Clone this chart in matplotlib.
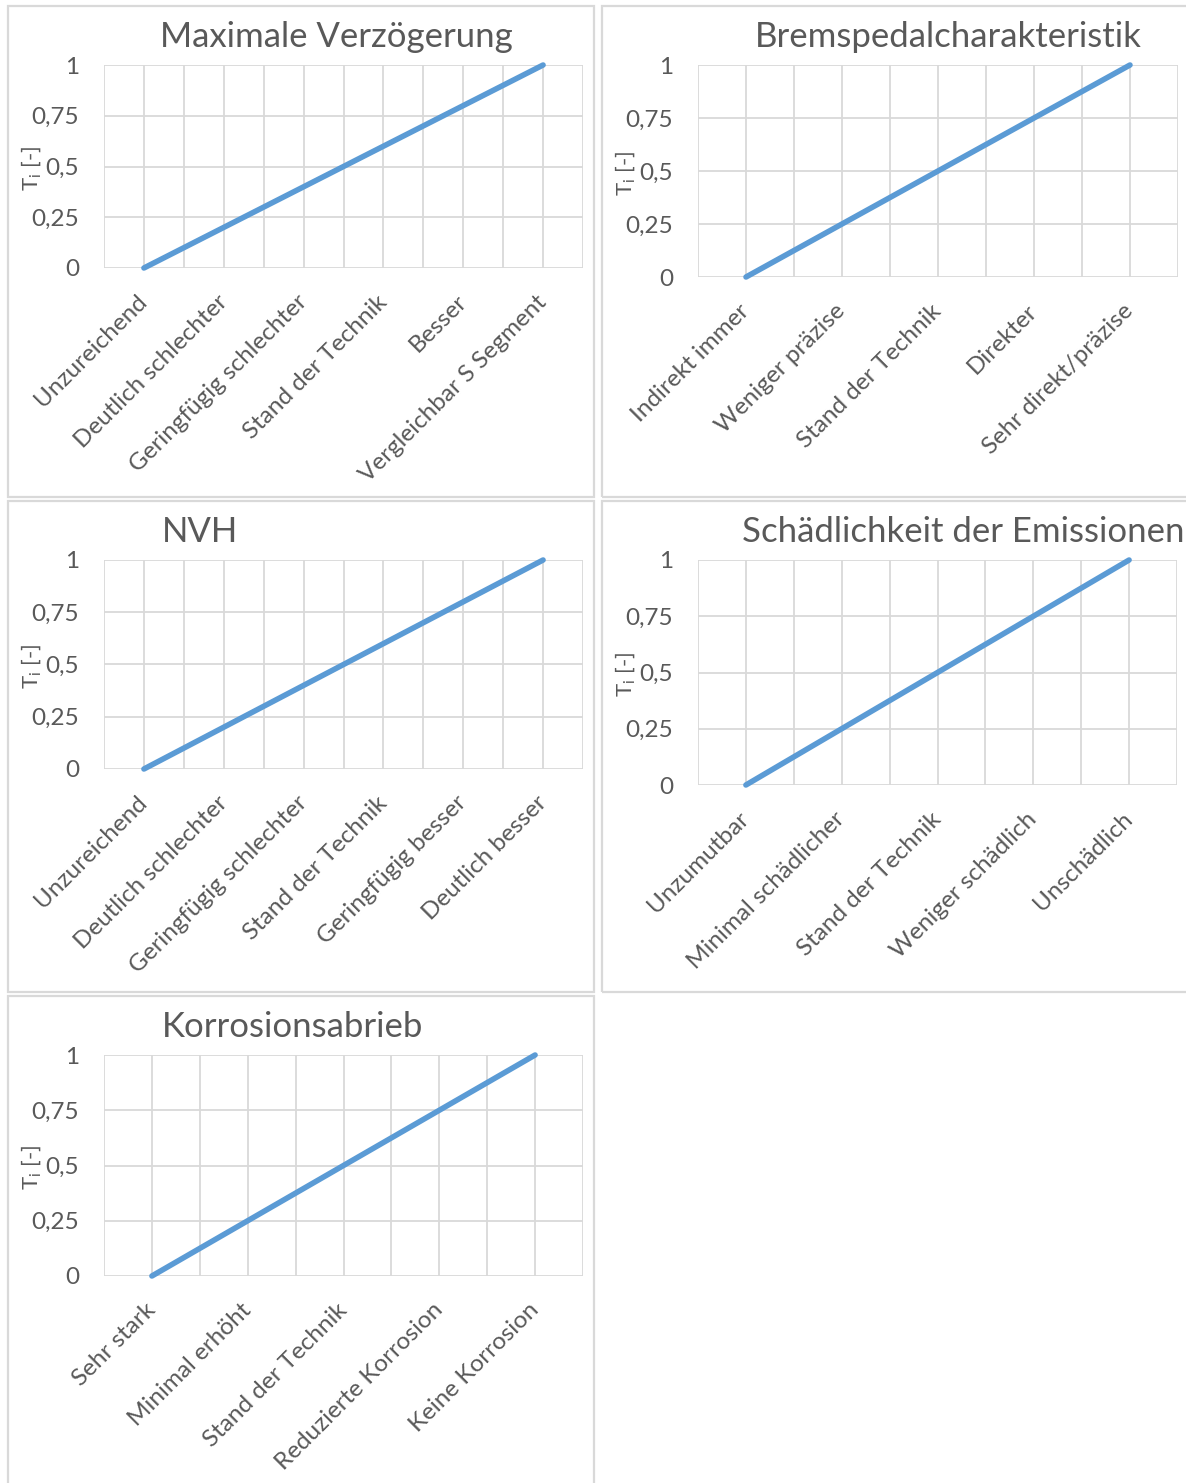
import numpy as np
import matplotlib
import matplotlib.pyplot as plt
from matplotlib.patches import Rectangle
from matplotlib.transforms import ScaledTranslation
matplotlib.use('agg')

# Bewertungsfunktionen T_i je Kriterium
titles = ['Maximale Verzögerung', 'Bremspedalcharakteristik', 'NVH',
          'Schädlichkeit der Emissionen', 'Korrosionsabrieb']

cats_verz = ['Unzureichend', 'Deutlich schlechter', 'Geringfügig schlechter',
             'Stand der Technik', 'Besser', 'Vergleichbar S Segment']
vals_verz = [0, 0.2, 0.4, 0.6, 0.8, 1]

cats_pedal = ['Indirekt immer', 'Weniger präzise', 'Stand der Technik',
              'Direkter', 'Sehr direkt/präzise']
vals_pedal = [0, 0.25, 0.5, 0.75, 1]

cats_nvh = ['Unzureichend', 'Deutlich schlechter', 'Geringfügig schlechter',
            'Stand der Technik', 'Geringfügig besser', 'Deutlich besser']
vals_nvh = [0, 0.2, 0.4, 0.6, 0.8, 1]

cats_emis = ['Unzumutbar', 'Minimal schädlicher', 'Stand der Technik',
             'Weniger schädlich', 'Unschädlich']
vals_emis = [0, 0.25, 0.5, 0.75, 1]

cats_korr = ['Sehr stark', 'Minimal erhöht', 'Stand der Technik',
             'Reduzierte Korrosion', 'Keine Korrosion']
vals_korr = [0, 0.25, 0.5, 0.75, 1]

y_ticks = [0, 0.25, 0.5, 0.75, 1]
y_ticklabels = ['0', '0,25', '0,5', '0,75', '1']

plt.rcParams['font.family'] = ['Lato', 'DejaVu Sans']
TXT = '#595959'
GRID = '#D9D9D9'
BLUE = '#5B9BD5'

W, H = 1186, 1483
fig = plt.figure(figsize=(W / 100, H / 100), dpi=100)

# panel boxes (pixel coords: x0, y0, x1, y1)
boxes = [(8, 6, 594, 497), (602, 6, 1190, 497),
         (8, 501, 594, 992), (602, 501, 1190, 992),
         (8, 996, 594, 1490)]
# plot areas (pixel coords: left, top(y=1), right, bottom(y=0))
areas = [(104, 65, 583, 268), (698, 65, 1178, 277),
         (104, 560, 583, 769), (698, 560, 1177, 785),
         (104, 1055, 583, 1276)]
# title left edge and baseline, pixels
title_pos = [(160, 47), (755, 47), (162, 542), (742, 542), (162, 1037)]

data = [(cats_verz, vals_verz), (cats_pedal, vals_pedal), (cats_nvh, vals_nvh),
        (cats_emis, vals_emis), (cats_korr, vals_korr)]

for (x0, y0, x1, y1) in boxes:
    fig.add_artist(Rectangle((x0 / W, 1 - y1 / H), (x1 - x0) / W, (y1 - y0) / H,
                             transform=fig.transFigure, fill=False,
                             edgecolor=GRID, lw=1.6))

for i, (cats, vals) in enumerate(data):
    l, t, r, b = areas[i]
    ax = fig.add_axes([l / W, 1 - b / H, (r - l) / W, (b - t) / H])
    n = len(cats)
    x = np.arange(n)
    ax.plot(x, vals, color=BLUE, lw=4, solid_capstyle='round', clip_on=False, zorder=3)
    ax.set_xlim(-0.5, n - 0.5)
    ax.set_ylim(0, 1)
    ax.set_yticks(y_ticks)
    ax.set_yticklabels(y_ticklabels)
    ax.set_xticks(x)
    ax.set_xticklabels(cats, rotation=45, ha='right', va='center',
                       rotation_mode='anchor')
    # vertikale Gitterlinien auf und zwischen den Kategorien
    for gx in np.arange(-0.5, n, 0.5):
        ax.axvline(gx, color=GRID, lw=1.3, zorder=0)
    ax.grid(which='major', axis='y', color=GRID, lw=1.3)
    ax.tick_params(which='both', length=0)
    ax.tick_params(axis='y', pad=18, labelsize=17.5, labelcolor=TXT)
    ax.tick_params(axis='x', pad=22, labelsize=17.5, labelcolor=TXT)
    for s in ax.spines.values():
        s.set_visible(False)
    ax.set_axisbelow(True)

    # y-Achsenbeschriftung, leicht in die Tick-Labels hineinragend
    trans = ax.transAxes + ScaledTranslation(-0.72, 0, fig.dpi_scale_trans)
    ax.text(0, 0.49, r'T$_\mathregular{i}$ [-]', transform=trans, rotation=90,
            ha='center', va='center', fontsize=16, color=TXT)

    tx, ty = title_pos[i]
    fig.text(tx / W, 1 - ty / H, titles[i], ha='left', va='baseline',
             fontsize=25, color=TXT)

fig.savefig('out.png', dpi=100, facecolor='white')
